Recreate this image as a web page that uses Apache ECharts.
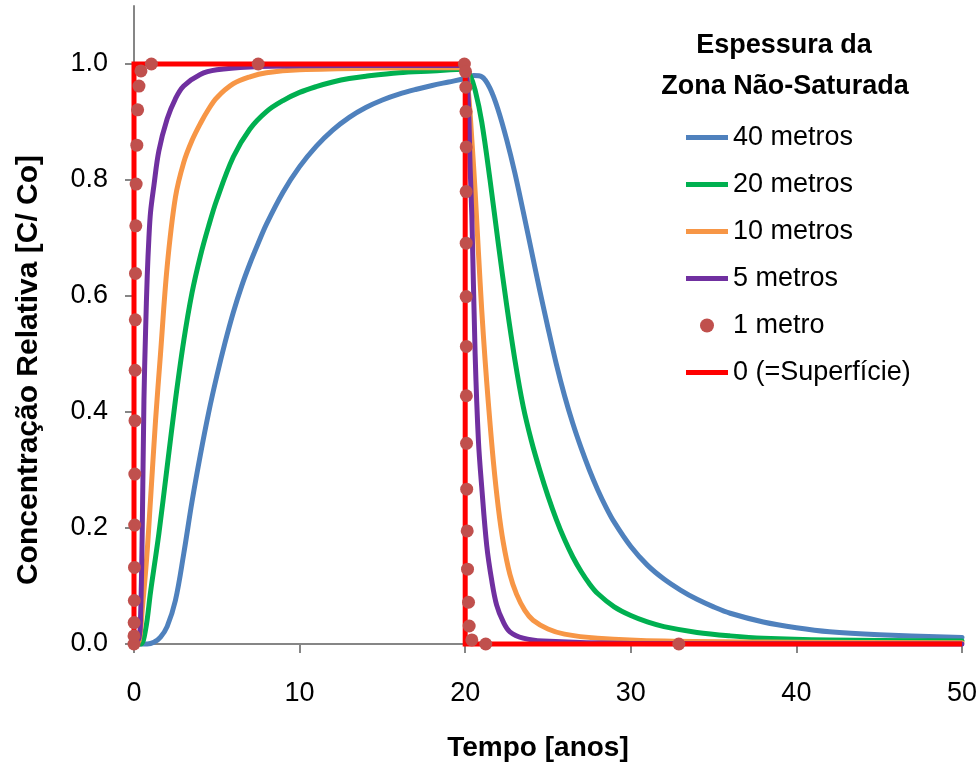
<!DOCTYPE html>
<html>
<head>
<meta charset="utf-8">
<title>Concentração Relativa</title>
<script src="https://cdn.jsdelivr.net/npm/echarts@6/dist/echarts.min.js"></script>
</head>
<body style="margin:0">
<div id="main" style="width:980px;height:767px;"></div>
<script type="text/javascript">
// tempo [anos] e concentração relativa C/Co para cada espessura
var t40 = [0, 0.8, 1.2, 1.6, 2.0, 2.5, 3.0, 3.5, 4.0, 4.5, 5, 5.5, 6, 6.5, 7, 7.5, 8, 9, 10, 11, 12, 13, 14, 15, 16, 17, 18, 19, 20,
  20.5, 21, 21.5, 22, 22.5, 23, 23.5, 24, 24.5, 25, 25.5, 26, 26.5, 27, 27.5, 28, 28.5, 29, 30, 31, 32, 33, 34, 35, 36,
  38, 40, 42, 45, 50];
var c40 = [0, 0, 0.003, 0.012, 0.03, 0.075, 0.155, 0.245, 0.325, 0.398, 0.462, 0.52, 0.572, 0.617, 0.656, 0.691, 0.724, 0.779,
  0.823, 0.858, 0.886, 0.908, 0.925, 0.938, 0.948, 0.956, 0.963, 0.969, 0.975,
  0.98, 0.978, 0.958, 0.92, 0.87, 0.812, 0.746, 0.678, 0.61, 0.545, 0.483, 0.428, 0.38, 0.338, 0.300, 0.266, 0.236, 0.21,
  0.168, 0.136, 0.112, 0.093, 0.077, 0.064, 0.053, 0.038, 0.028, 0.021, 0.016, 0.011];

var t20 = [0, 0.4, 0.7, 1.0, 1.5, 2.0, 2.5, 3.0, 3.5, 4.0, 4.5, 5, 6, 7, 8, 9, 10, 11, 12, 13, 14, 16, 18, 20,
  20.3, 20.6, 21, 21.5, 22, 22.5, 23, 23.5, 24, 24.5, 25, 25.5, 26, 26.5, 27, 27.5, 28, 29, 30, 31, 32, 34, 36, 38, 42, 50];
var c20 = [0, 0, 0.025, 0.09, 0.19, 0.305, 0.42, 0.522, 0.605, 0.668, 0.72, 0.766, 0.84, 0.888, 0.918, 0.937, 0.951, 0.961,
  0.969, 0.975, 0.979, 0.985, 0.988, 0.991,
  0.98, 0.955, 0.9, 0.8, 0.69, 0.585, 0.49, 0.41, 0.35, 0.3, 0.255, 0.215, 0.18, 0.15, 0.125, 0.104, 0.087, 0.064, 0.049,
  0.038, 0.03, 0.02, 0.014, 0.01, 0.007, 0.005];

var t10 = [0, 0.3, 0.5, 0.77, 1.0, 1.3, 1.6, 2.0, 2.5, 3.0, 3.5, 4.0, 4.5, 5, 6, 7, 8, 10, 15, 20,
  20.2, 20.4, 20.6, 20.8, 21.0, 21.2, 21.4, 21.7, 22.0, 22.3, 22.7, 23.1, 23.6, 24.1, 25, 26, 28, 32, 40, 50];
var c10 = [0, 0.005, 0.06, 0.15, 0.25, 0.385, 0.50, 0.65, 0.77, 0.83, 0.868, 0.897, 0.922, 0.942, 0.966, 0.978, 0.985, 0.99,
  0.993, 0.994,
  0.95, 0.87, 0.78, 0.675, 0.575, 0.49, 0.415, 0.315, 0.235, 0.175, 0.12, 0.086, 0.058, 0.041, 0.026, 0.017, 0.01, 0.005,
  0.003, 0.002];

var t5 = [0, 0.3, 0.4, 0.5, 0.6, 0.7, 0.8, 0.9, 1.0, 1.2, 1.5, 2.0, 2.5, 3.0, 4.0, 5, 7, 10, 20,
  20.1, 20.2, 20.3, 20.4, 20.6, 20.8, 21.0, 21.3, 21.6, 21.9, 22.3, 22.7, 23.5, 24.7, 30, 50];
var c5 = [0, 0.01, 0.05, 0.2, 0.42, 0.54, 0.635, 0.70, 0.745, 0.79, 0.85, 0.905, 0.94, 0.962, 0.982, 0.99, 0.995, 0.997, 0.998,
  0.98, 0.93, 0.82, 0.74, 0.5, 0.35, 0.27, 0.17, 0.11, 0.067, 0.038, 0.021, 0.01, 0.005, 0.001, 0];

// 1 metro: pontos
var t1 = [0, 0, 0.01, 0.02, 0.03, 0.04, 0.05, 0.06, 0.07, 0.08, 0.09, 0.11, 0.13, 0.17, 0.22, 0.3, 0.42, 1.05, 7.5, 19.95,
  20.02, 20.04, 20.05, 20.06, 20.06, 20.06, 20.06, 20.07, 20.07, 20.08, 20.09, 20.12, 20.14, 20.2, 20.24, 20.4, 21.24, 32.9];
var c1 = [0, 0.014, 0.037, 0.075, 0.132, 0.205, 0.293, 0.385, 0.472, 0.559, 0.639, 0.721, 0.793, 0.86, 0.921, 0.962, 0.988, 1, 1, 1,
  0.987, 0.96, 0.918, 0.857, 0.78, 0.691, 0.599, 0.513, 0.428, 0.346, 0.267, 0.195, 0.129, 0.072, 0.031, 0.007, 0, 0];

// 0 (superfície): pulso
var t0 = [0, 0, 20, 20, 50];
var c0 = [0, 1, 1, 0, 0];

var nomes = ['40 metros', '20 metros', '10 metros', '5 metros', '1 metro', '0 (=Superfície)'];
var yTicks = [0, 0.2, 0.4, 0.6, 0.8, 1.0];
var xTicks = [0, 10, 20, 30, 40, 50];

function pares(t, c) {
  return t.map(function (v, i) { return [v, c[i]]; });
}

var fonte = '"Liberation Sans", Arial, sans-serif';
var cinza = '#868686';
var iconeLinha = 'path://M0,0L42,0L42,5L0,5Z';

function curva(nome, t, c, cor, z) {
  return {
    name: nome,
    type: 'line',
    data: pares(t, c),
    symbol: 'none',
    smooth: 0.35,
    clip: false,
    z: z,
    lineStyle: { color: cor, width: 5, cap: 'round', join: 'round' },
    itemStyle: { color: cor }
  };
}

var myChart = echarts.init(document.getElementById('main'));

var option = {
  animation: false,
  backgroundColor: '#fff',
  grid: { left: 134, right: 18, top: 6, bottom: 123 },
  xAxis: {
    type: 'value',
    min: 0,
    max: 50,
    interval: 10,
    splitLine: { show: false },
    axisLine: { lineStyle: { color: cinza, width: 2 } },
    axisTick: { show: true, length: 9, lineStyle: { color: cinza, width: 2 }, customValues: xTicks },
    axisLabel: { fontSize: 27, fontFamily: fonte, color: '#000', margin: 36, customValues: xTicks }
  },
  yAxis: {
    type: 'value',
    min: 0,
    max: 1.1,
    interval: 0.2,
    splitLine: { show: false },
    axisLine: { show: true, lineStyle: { color: cinza, width: 2 } },
    axisTick: { show: true, length: 9, lineStyle: { color: cinza, width: 2 }, customValues: yTicks },
    axisLabel: {
      fontSize: 27, fontFamily: fonte, color: '#000', margin: 26, customValues: yTicks,
      formatter: function (v) { return v.toFixed(1); }
    }
  },
  legend: {
    orient: 'vertical',
    left: 686,
    top: 124,
    padding: 0,
    itemWidth: 42,
    itemHeight: 14,
    itemGap: 20,
    data: [
      { name: nomes[0], icon: iconeLinha },
      { name: nomes[1], icon: iconeLinha },
      { name: nomes[2], icon: iconeLinha },
      { name: nomes[3], icon: iconeLinha },
      { name: nomes[4], icon: 'circle' },
      { name: nomes[5], icon: iconeLinha }
    ],
    textStyle: { fontSize: 27, lineHeight: 27, fontFamily: fonte, color: '#000' }
  },
  graphic: [
    { type: 'text', x: 784, y: 46, style: { text: 'Espessura da', textAlign: 'center', textVerticalAlign: 'middle', font: 'bold 27px ' + fonte, fill: '#000' } },
    { type: 'text', x: 785, y: 87, style: { text: 'Zona Não-Saturada', textAlign: 'center', textVerticalAlign: 'middle', font: 'bold 27px ' + fonte, fill: '#000' } },
    { type: 'text', x: 538, y: 748, style: { text: 'Tempo [anos]', textAlign: 'center', textVerticalAlign: 'middle', font: 'bold 28px ' + fonte, fill: '#000' } },
    { type: 'text', x: 29, y: 370, rotation: Math.PI / 2, style: { text: 'Concentração Relativa [C/ Co]', textAlign: 'center', textVerticalAlign: 'middle', font: 'bold 30px ' + fonte, fill: '#000' } }
  ],
  series: [
    curva(nomes[0], t40, c40, '#4F81BD', 2),
    curva(nomes[1], t20, c20, '#00B050', 2),
    curva(nomes[2], t10, c10, '#F79646', 2),
    curva(nomes[3], t5, c5, '#7030A0', 2),
    {
      name: nomes[4],
      type: 'scatter',
      data: pares(t1, c1),
      symbol: 'circle',
      symbolSize: 13,
      clip: false,
      z: 4,
      itemStyle: { color: '#C0504D', opacity: 1 }
    },
    {
      name: nomes[5],
      type: 'line',
      data: pares(t0, c0),
      symbol: 'none',
      clip: false,
      z: 3,
      lineStyle: { color: '#FF0000', width: 5, join: 'miter' },
      itemStyle: { color: '#FF0000' }
    }
  ]
};

myChart.setOption(option);
</script>
</body>
</html>
